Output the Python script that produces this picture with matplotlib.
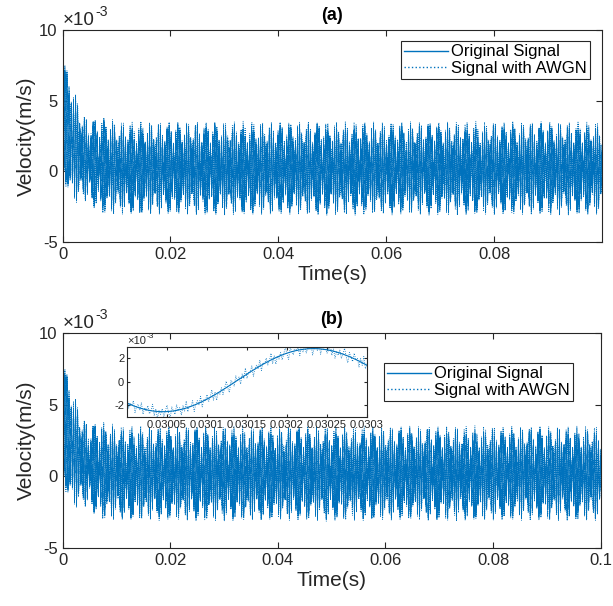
import numpy as np
import matplotlib
matplotlib.use("Agg")
import matplotlib.pyplot as plt
from matplotlib.ticker import FuncFormatter

plt.rcParams['font.family'] = ['Liberation Sans', 'DejaVu Sans']
plt.rcParams['axes.unicode_minus'] = False

BLUE = '#0072BD'
GREY = '#262626'

# sampling of the measured response
fs = 500e3                     # Hz
t_end = 0.1                    # s

# steady vibration modes (Hz, m/s, rad)
mode_freq = [2480.0, 3060.0]
mode_amp = [2.0e-3, 0.75e-3]
mode_phase = [1.498, -1.179]

# start-up transient: decaying offset plus decaying oscillation
trans_offset = 3.8e-3
trans_offset_tau = 0.0025
trans_amp = 1.6e-3
trans_freq = 2630.0
trans_tau = 0.003
dc_offset = 0.2e-3

# additive noise samples (x1e-3 m/s), repeated along the record
awgn = [0.25, -0.42, 0.08, 0.55, -0.12, -0.58, 0.36, 0.02, -0.31, 0.47,
        -0.05, 0.19, -0.50, 0.30, -0.22, 0.60, -0.37, 0.11, -0.02, 0.43,
        -0.54, 0.05, 0.27, -0.15, 0.51, -0.45, 0.14, -0.09, 0.38, -0.29,
        0.01, 0.57, -0.39, 0.21, -0.56, 0.07, -0.24]

x_ticks = [0, 0.02, 0.04, 0.06, 0.08, 0.1]
y_ticks = [-5e-3, 0, 5e-3, 10e-3]
inset_xlim = (0.03, 0.0303)
inset_xticks = [0.03005, 0.0301, 0.03015, 0.0302, 0.03025, 0.0303]
inset_yticks = [-2e-3, 0, 2e-3]


def build_signal():
    t = np.arange(0, t_end, 1.0 / fs)
    v = np.full_like(t, dc_offset)
    for f, a, p in zip(mode_freq, mode_amp, mode_phase):
        v += a * np.sin(2 * np.pi * f * t + p)
    v += trans_offset * np.exp(-t / trans_offset_tau)
    v += trans_amp * np.exp(-t / trans_tau) * np.sin(2 * np.pi * trans_freq * t)
    noise = np.resize(np.array(awgn) * 1e-3, t.size)
    return t, v, v + noise


def style_axes(ax, fs_ticks=12):
    for s in ax.spines.values():
        s.set_color(GREY)
        s.set_linewidth(0.8)
    ax.tick_params(direction='in', top=True, right=True, length=4,
                   width=0.8, colors=GREY, labelsize=fs_ticks)


def milli_axis(ax, fsize, lift):
    # y values shown in units of 1e-3 with a x10^-3 marker above the axis
    ax.yaxis.set_major_formatter(FuncFormatter(lambda v, p: '%g' % round(v * 1e3, 6)))
    ax.annotate('×10', xy=(0.0, 1.0), xycoords=ax.transAxes,
                xytext=(0, lift), textcoords='offset points',
                fontsize=fsize, color=GREY, ha='left', va='baseline')
    ax.annotate('-3', xy=(0.0, 1.0), xycoords=ax.transAxes,
                xytext=(fsize * 1.75, lift + fsize * 0.5),
                textcoords='offset points',
                fontsize=fsize * 0.75, color=GREY, ha='left', va='baseline')


t, sig, noisy = build_signal()

fig = plt.figure(figsize=(6.13, 6.06), dpi=100)
ax_a = fig.add_axes([0.102, 0.6007, 0.880, 0.3498])
ax_b = fig.add_axes([0.102, 0.0957, 0.878, 0.3543])

fmt_g = FuncFormatter(lambda v, p: '%g' % v)

for ax, tag, xmax in [(ax_a, '(a)', t[-1]), (ax_b, '(b)', 0.1)]:
    ax.plot(t, sig, color=BLUE, lw=0.55, label='Original Signal')
    ax.plot(t, noisy, color=BLUE, lw=0.55, ls=':', label='Signal with AWGN')
    ax.set_xlim(0, xmax)
    ax.set_ylim(-5e-3, 10e-3)
    ax.set_xticks([x for x in x_ticks if x <= xmax])
    ax.xaxis.set_major_formatter(fmt_g)
    ax.set_yticks(y_ticks)
    milli_axis(ax, 13.5, 3.5)
    style_axes(ax)
    ax.set_xlabel('Time(s)', fontsize=15, color=GREY, labelpad=2)
    ax.set_ylabel('Velocity(m/s)', fontsize=15, color=GREY, labelpad=2)
    ax.set_title(tag, fontsize=13, fontweight='bold', color='black', pad=7)

leg_kw = dict(loc='upper right', fontsize=12, frameon=True, fancybox=False,
              edgecolor=GREY, framealpha=1, handlelength=2.6,
              borderpad=0.2, labelspacing=0.1, handletextpad=0.2,
              borderaxespad=0)
for ax, anchor in [(ax_a, (590 / 613, 1 - 41 / 606)),
                   (ax_b, (573 / 613, 1 - 363 / 606))]:
    leg = ax.legend(bbox_to_anchor=anchor, bbox_transform=fig.transFigure,
                    **leg_kw)
    leg.get_frame().set_linewidth(0.8)
    for ln in leg.get_lines():
        ln.set_linewidth(1.0)

# zoomed view of a short window of the record
ax_in = fig.add_axes([0.2072, 0.3119, 0.3915, 0.1163])
mask = (t >= inset_xlim[0] - 1e-5) & (t <= inset_xlim[1] + 1e-5)
ax_in.plot(t[mask], sig[mask], color=BLUE, lw=0.8)
ax_in.plot(t[mask], noisy[mask], color=BLUE, lw=0.6, ls=':')
ax_in.set_xlim(*inset_xlim)
ax_in.set_ylim(-3e-3, 3e-3)
ax_in.set_xticks(inset_xticks)
ax_in.xaxis.set_major_formatter(fmt_g)
ax_in.set_yticks(inset_yticks)
milli_axis(ax_in, 8, 2)
style_axes(ax_in, fs_ticks=8)
ax_in.tick_params(length=2, pad=2)

fig.savefig('out.png', dpi=100)
